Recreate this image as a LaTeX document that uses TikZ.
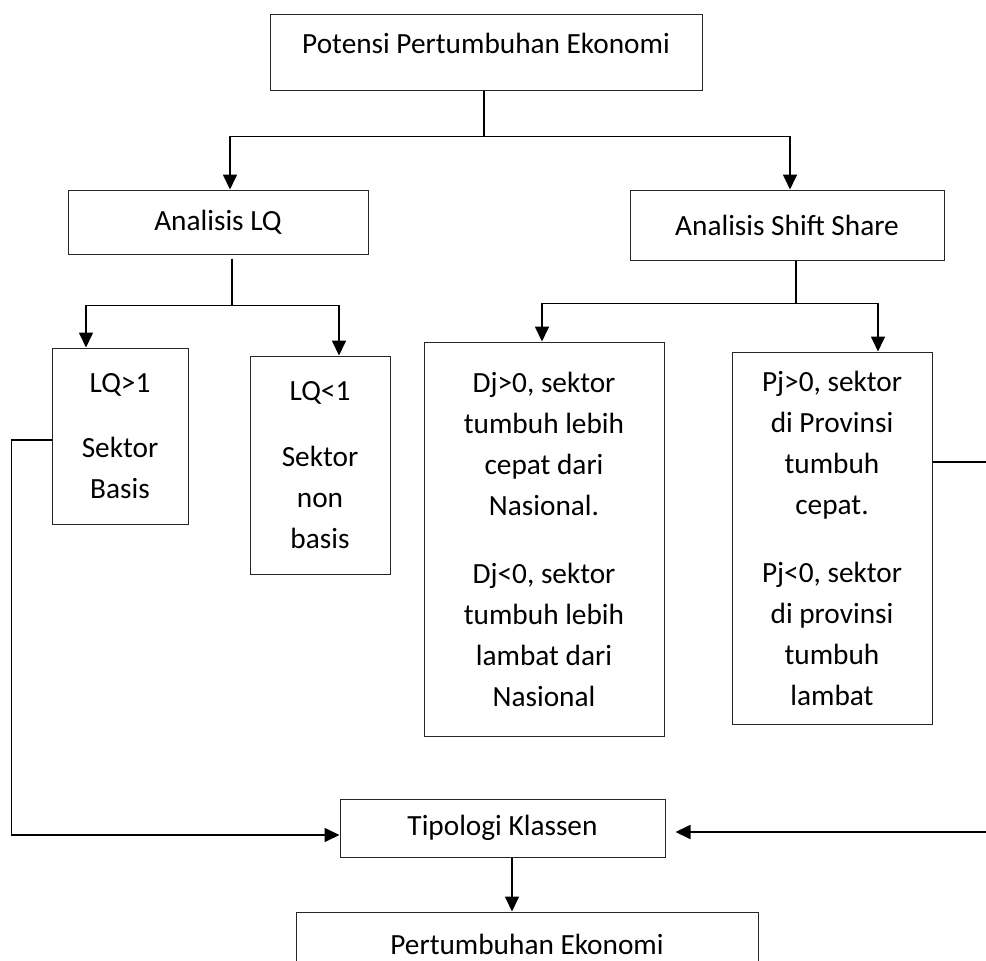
\documentclass[tikz,border=0pt]{standalone}
\usepackage{fontspec}
\setmainfont{Carlito}
\usetikzlibrary{arrows.meta}
\begin{document}
\begin{tikzpicture}[x=1pt,y=-1pt,
  box/.style={draw=black!85, line width=1pt, rectangle, inner sep=0pt, align=center,
    font=\fontsize{29.3}{41}\selectfont},
  conn/.style={draw=black, line width=1.7pt},
  arr/.style={conn, -{Triangle[width=14pt,length=15pt]}}]
\useasboundingbox (0,0) rectangle (986,961);
\fill[white] (0,0) rectangle (986,961);

\node[box, minimum width=432pt, minimum height=76pt, text height=20pt, text depth=18pt] (top) at (486,52) {Potensi Pertumbuhan Ekonomi};
\node[box, minimum width=300pt, minimum height=64pt] (lq) at (218,222) {Analisis LQ};
\node[box, minimum width=314pt, minimum height=70pt] (ss) at (787,225) {Analisis Shift Share};
\node[box, minimum width=136pt, minimum height=176pt] (lq1) at (120,436) {LQ>1\\[24pt]Sektor\\Basis};
\node[box, minimum width=140pt, minimum height=218pt] (lq2) at (320,465) {LQ<1\\[25pt]Sektor\\non\\basis};
\node[box, minimum width=240pt, minimum height=394pt] (dj) at (544,539) {Dj>0, sektor\\tumbuh lebih\\cepat dari\\Nasional.\\[27pt]Dj<0, sektor\\tumbuh lebih\\lambat dari\\Nasional};
\node[box, minimum width=200pt, minimum height=372pt] (pj) at (832,538) {Pj>0, sektor\\di Provinsi\\tumbuh\\cepat.\\[27pt]Pj<0, sektor\\di provinsi\\tumbuh\\lambat};
\node[box, minimum width=325pt, minimum height=58pt] (tk) at (502.5,828) {Tipologi Klassen};
\node[box, minimum width=462pt, minimum height=70pt, text height=20pt, text depth=6pt] (pe) at (527,947) {Pertumbuhan Ekonomi};

% top to analyses
\draw[conn] ([xshift=-2pt]top.south) -- ++(0,-46pt) coordinate (j1);
\draw[arr] ([xshift=-2pt]j1) -| ([xshift=12pt]lq.north);
\draw[arr] ([xshift=-2pt]j1) -| ([xshift=3pt]ss.north);

% LQ branch
\draw[conn] ([xshift=14pt,yshift=-4pt]lq.south) -- ++(0,-47pt) coordinate (j2);
\draw[arr] (j2) -| ([xshift=-34pt]lq1.north);
\draw[arr] (j2) -| ([xshift=19pt]lq2.north);

% Shift share branch
\draw[conn] ([xshift=9pt]ss.south) -- ++(0,-43pt) coordinate (j3);
\draw[arr] (j3) -| ([xshift=-2pt]dj.north);
\draw[arr] (j3) -| ([xshift=46pt]pj.north);

% side feeds into Tipologi Klassen
\draw[arr] ([yshift=-4pt]lq1.west) -- ++(-40pt,0) |- ([yshift=-7pt]tk.west);
\draw[arr] ([yshift=76pt]pj.east) -- ++(58pt,0) |- ([xshift=10pt,yshift=-4pt]tk.east);

% to result
\draw[arr] ([xshift=9.5pt]tk.south) -- ([xshift=9.5pt]tk.south |- pe.north);
\end{tikzpicture}
\end{document}
